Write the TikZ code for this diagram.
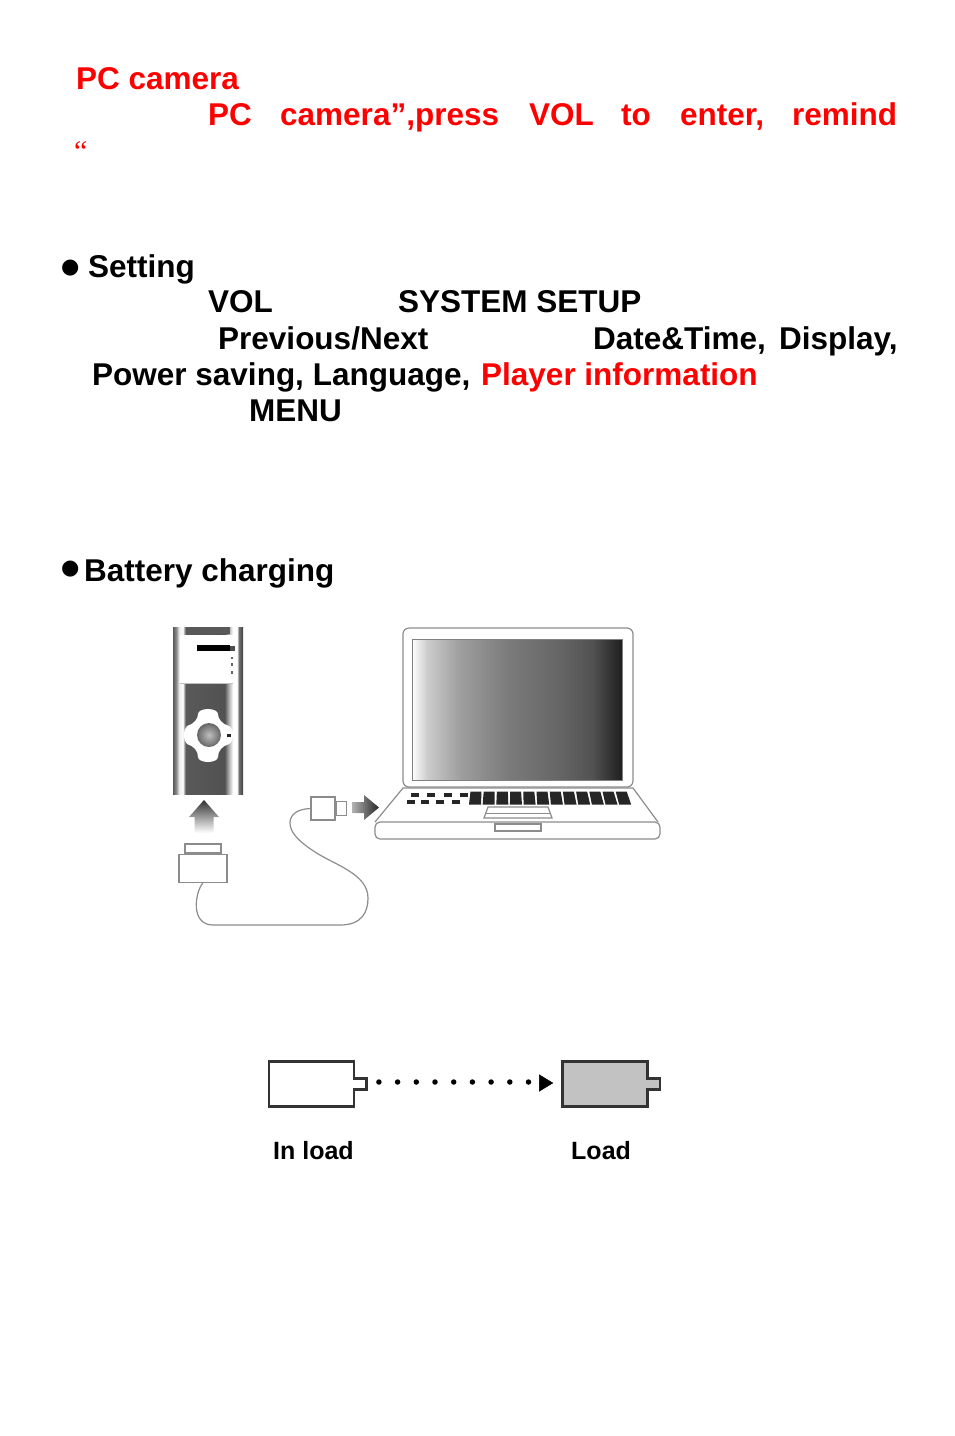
\documentclass[tikz,border=0pt]{standalone}
\usepackage{fontspec}
\setmainfont{Liberation Sans}
\newfontfamily\quotefont{Liberation Serif}
\newfontfamily\dotfont{DejaVu Sans}
\usetikzlibrary{positioning,arrows.meta}
\definecolor{cablegray}{gray}{0.55}
\definecolor{loadgray}{gray}{0.76}
\definecolor{redtext}{rgb}{1,0,0}
\pgfdeclarehorizontalshading{devbody}{100bp}{color(0bp)=(black!65);color(25bp)=(black!65);color(27.4bp)=(black!45);color(29.3bp)=(black!8);color(32bp)=(white);color(34bp)=(black!65);color(61.9bp)=(black!68);color(65bp)=(black!30);color(67.9bp)=(white);color(70.7bp)=(white);color(72bp)=(black!55);color(75bp)=(black!75);color(100bp)=(black!75)}
\pgfdeclarehorizontalshading{lapscreen}{100bp}{color(0bp)=(white);color(25bp)=(white);color(28.6bp)=(black!20);color(36.5bp)=(black!38);color(48bp)=(black!52);color(60bp)=(black!60);color(68bp)=(black!68);color(75bp)=(black!88);color(100bp)=(black!88)}
\begin{document}
\begin{tikzpicture}[x=1pt, y=-1pt, >=stealth,
    txt/.style={anchor=base west, inner sep=0pt, font=\fontsize{31.5}{36}\bfseries},
    redtxt/.style={txt, text=redtext},
    lbl/.style={anchor=base west, inner sep=0pt, font=\fontsize{25}{30}\bfseries},
    frame/.style={draw=cablegray, line width=1.2pt, fill=white},
    key/.style={fill=black!85, draw=none},
    cell/.style={draw=black!80, line width=2.6pt, minimum width=85pt, minimum height=45pt, inner sep=0pt},
    nib/.style={draw=black!80, line width=2.6pt, minimum width=10pt, minimum height=11pt, inner sep=0pt}]
    \useasboundingbox (0,0) rectangle (954,1436);
    % first block
    \node (pccam) [redtxt] at (76,89.5) {PC camera};
    \node (pcword) [redtxt] at (208,125) {PC};
    \node (camword) [redtxt] at (280,125) {camera”,press};
    \node (volword) [redtxt] at (529,125) {VOL};
    \node (toword) [redtxt] at (621,125) {to};
    \node (enterword) [redtxt] at (680,125) {enter,};
    \node (remindword) [redtxt] at (792,125) {remind};
    \node (quote) [txt, text=redtext, font=\fontsize{30}{34}\quotefont] at (74,161) {“};
    % setting block
    \node (dotset) [txt, font=\fontsize{21}{24}\dotfont] at (61,273.5) {●};
    \node (setting) [txt] at (88,277) {Setting};
    \node (vol) [txt] at (208,312) {VOL};
    \node (setup) [txt] at (398,312) {SYSTEM SETUP};
    \node (prevnext) [txt] at (218,349) {Previous/Next};
    \node (datetime) [txt] at (593,349) {Date\&Time,};
    \node (display) [txt] at (779,349) {Display,};
    \node (power) [txt] at (92,385) {Power saving, Language,};
    \node (player) [redtxt] at (481,385) {Player information};
    \node (menu) [txt] at (249,421) {MENU};
    % battery block
    \node (dotbat) [txt, font=\fontsize{21}{24}\dotfont] at (61,574.5) {●};
    \node (charging) [txt] at (84,581) {Battery charging};
    % player
    \shade[shading=devbody] (173,627) rectangle (243,794);
    \fill[black!65] (186,627) rectangle (230,634);
    \fill[white] (180,635) rectangle (233,683);
    \draw[black!25, line width=.5pt] (180,683) -- (233,683);
    \fill[black] (197,645) rectangle (230,651);
    \fill[black!70] (230,645.5) rectangle (235,650.5);
    \foreach \y in {656.5,663,671}
        \fill[black!60] (230.5,\y) rectangle (233,\y+2.5);
    \fill[white] (208,709) .. controls (213,709) and (218,711) .. (218,714)
        .. controls (218,719) and (222,724) .. (229,726)
        .. controls (232,728) and (233,731) .. (233,735)
        .. controls (233,739) and (232,742) .. (229,744)
        .. controls (222,746) and (218,751) .. (218,757)
        .. controls (218,760) and (213,762) .. (208,762)
        .. controls (203,762) and (198,760) .. (198,757)
        .. controls (198,751) and (194,746) .. (187,744)
        .. controls (185,742) and (184,739) .. (184,735)
        .. controls (184,731) and (185,728) .. (187,726)
        .. controls (194,724) and (198,719) .. (198,714)
        .. controls (198,711) and (203,709) .. (208,709) -- cycle;
    \shade[inner color=black!25, outer color=black!60] (209,735) circle (12);
    \fill[black!85] (227,733.5) rectangle (231,736.5);
    \shade[top color=black!80, bottom color=white]
        (204,800) -- (219,817) -- (213.5,817) -- (213.5,833) -- (194.5,833) -- (194.5,817) -- (189,817) -- cycle;
    % plugs and cable
    \node (plugtop) [frame, minimum width=36pt, minimum height=9pt, inner sep=0pt] at (203,848.5) {};
    \node (plugbig) [frame, minimum width=48pt, minimum height=28pt, inner sep=0pt, below=0pt of plugtop] {};
    \node (usbbig) [frame, minimum width=24pt, minimum height=23pt, inner sep=0pt] at (323,808.5) {};
    \node (usbtip) [frame, minimum width=10pt, minimum height=14pt, inner sep=0pt, right=0pt of usbbig] {};
    \draw[cablegray, line width=1.2pt] (plugbig.south) .. controls (195,892) and (190,925) .. (213,925)
        -- (340,925) .. controls (362,925) and (368,912) .. (368,898)
        .. controls (368,874) and (335,865) .. (315,852)
        .. controls (298,841) and (290,832) .. (290,823)
        .. controls (290,814) and (298,809) .. (usbbig.west);
    \shade[left color=black!30, right color=black!85]
        (352,802) -- (364,802) -- (364,795) -- (379,807.5) -- (364,820) -- (364,813) -- (352,813) -- cycle;
    % laptop
    \draw[frame] (375,822) -- (403,788) -- (633,788) -- (658,822);
    \draw[frame, rounded corners=5pt] (375,822) -- (660,822) -- (660,839) -- (375,839) -- cycle;
    \draw[frame, rounded corners=6pt] (403,787) -- (403,628) -- (633,628) -- (633,787) -- cycle;
    \shade[shading=lapscreen, draw=black!50] (412,639) rectangle (622,780);
    \foreach \x in {410.5,427,444,459.5}
        \fill[key] (\x,792.5) rectangle (\x+8,796.5);
    \foreach \x in {406.5,420.5,436,451.5}
        \fill[key] (\x,800) rectangle (\x+8,804);
    \foreach \k in {0,...,11}
        \fill[key] (470.5+13.2*\k,791.5) -- (481.5+13.2*\k,791.5)
            -- (481+13.65*\k,804.5) -- (469+13.65*\k,804.5) -- cycle;
    \draw[frame] (488,807) -- (548,807) -- (552,818) -- (484,818) -- cycle;
    \draw[cablegray, line width=.8pt] (486,813) -- (550,813);
    \draw[frame] (495,824) rectangle (541,831);
    % load states
    \node (inload) [cell, fill=white] at (311.5,1084) {};
    \node (inloadnib) [nib, fill=white, right=0pt of inload] {};
    \fill[white] ([xshift=-2.7pt,yshift=4pt]inload.east) rectangle ([xshift=2.7pt,yshift=-4pt]inload.east);
    \node (load) [cell, fill=loadgray] at (605,1084) {};
    \node (loadnib) [nib, fill=loadgray, right=0pt of load] {};
    \fill[loadgray] ([xshift=-2.7pt,yshift=4pt]load.east) rectangle ([xshift=2.7pt,yshift=-4pt]load.east);
    \coordinate (tipend) at ([xshift=-8pt,yshift=1pt]load.west);
    \coordinate (tipstart) at ([xshift=-22pt,yshift=1pt]load.west);
    \draw[line width=5.5pt, line cap=round, dash pattern=on 0pt off 18.7pt, dash phase=7.7pt]
        ([yshift=2pt]inloadnib.east) -- ([yshift=1pt]tipstart);
    \draw[line width=.4pt, -{Stealth[length=14pt,width=17pt,inset=0pt]}] (tipstart) -- (tipend);
    \node (inloadtxt) [lbl] at (273,1159.5) {In load};
    \node (loadtxt) [lbl] at (571,1159.5) {Load};
\end{tikzpicture}
\end{document}
